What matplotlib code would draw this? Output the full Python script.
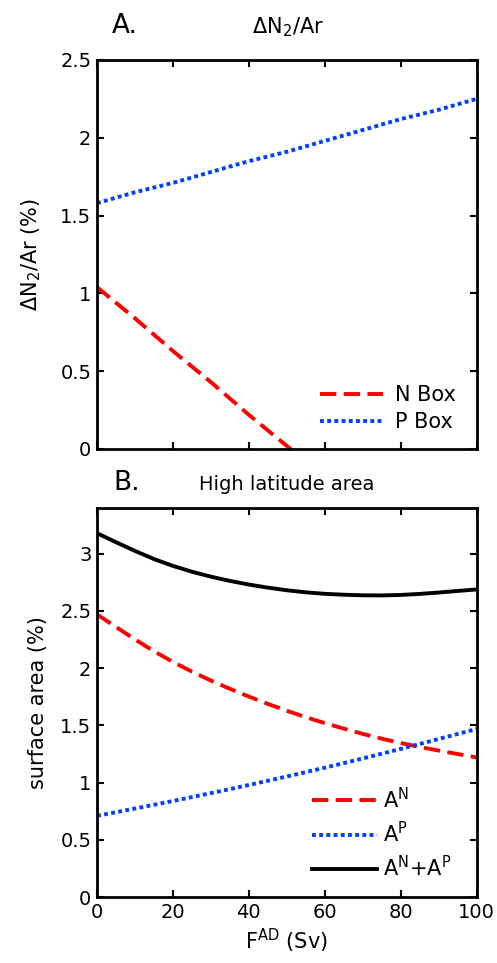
import matplotlib
matplotlib.use("Agg")
import matplotlib.pyplot as plt
from matplotlib.ticker import FuncFormatter

plt.rcParams['font.family'] = ['DejaVu Sans']
plt.rcParams['mathtext.default'] = 'regular'

# ---- data ----
F_top = [0, 10, 20, 30, 40, 50, 60, 70, 80, 90, 100]
dn2_N = [1.04, 0.84, 0.63, 0.43, 0.22, 0.02, -0.18, -0.39, -0.59, -0.80, -1.00]
dn2_P = [1.58, 1.65, 1.71, 1.78, 1.85, 1.91, 1.98, 2.05, 2.12, 2.18, 2.25]

F = [0, 5, 10, 15, 20, 25, 30, 35, 40, 45, 50, 55, 60, 65, 70, 75, 80, 85, 90, 95, 100]
A_N = [2.470, 2.360, 2.252, 2.148, 2.055, 1.970, 1.892, 1.820, 1.752, 1.688, 1.628,
       1.572, 1.520, 1.472, 1.426, 1.384, 1.346, 1.312, 1.280, 1.250, 1.220]
A_P = [0.710, 0.741, 0.773, 0.806, 0.839, 0.873, 0.908, 0.943, 0.979, 1.016, 1.053,
       1.091, 1.130, 1.170, 1.211, 1.252, 1.294, 1.337, 1.381, 1.425, 1.468]
A_sum = [a + b for a, b in zip(A_N, A_P)]

xticks = [0, 20, 40, 60, 80, 100]
yticks_top = [0, 0.5, 1, 1.5, 2, 2.5]
yticks_bot = [0, 0.5, 1, 1.5, 2, 2.5, 3]

RED = '#ff0000'
BLUE = '#0040ff'
W, H = 497, 963
fig = plt.figure(figsize=(W / 100, H / 100), dpi=100)

def fx(px):
    return px / W

def fy(py):
    return 1 - py / H

left, right = 97, 476.5
ax1 = fig.add_axes([fx(left), fy(449), fx(right) - fx(left), fy(60) - fy(449)])
ax2 = fig.add_axes([fx(left), fy(897), fx(right) - fx(left), fy(508) - fy(897)])

lw = 2.8
dash = (0, (4.2, 1.9))
dot = (0, (1.0, 0.85))

ax1.plot(F_top, dn2_N, color=RED, lw=lw, linestyle=dash, label='N Box')
ax1.plot(F_top, dn2_P, color=BLUE, lw=lw, linestyle=dot, label='P Box')
ax1.set_xlim(0, 100)
ax1.set_ylim(0, 2.5)
ax1.set_yticks(yticks_top)
ax1.set_xticks(xticks)
ax1.set_xticklabels([])
ax1.set_ylabel('ΔN$_2$/Ar (%)', fontsize=15)
ax1.yaxis.set_label_coords(-0.142, 0.5)

ax2.plot(F, A_N, color=RED, lw=lw, linestyle=dash, label='A$^N$')
ax2.plot(F, A_P, color=BLUE, lw=lw, linestyle=dot, label='A$^P$')
ax2.plot(F, A_sum, color='black', lw=lw, linestyle='-', label='A$^N$+A$^P$')
ax2.set_xlim(0, 100)
ax2.set_ylim(0, 3.4)
ax2.set_yticks(yticks_bot)
ax2.set_xticks(xticks)
ax2.set_ylabel('surface area (%)', fontsize=15)
ax2.yaxis.set_label_coords(-0.129, 0.5)
ax2.set_xlabel('F$^{AD}$ (Sv)', fontsize=15, labelpad=4)

fmt = FuncFormatter(lambda v, p: '%g' % v)
ax1.yaxis.set_major_formatter(fmt)
ax2.yaxis.set_major_formatter(fmt)
ax2.xaxis.set_major_formatter(fmt)
for ax in (ax1, ax2):
    for s in ax.spines.values():
        s.set_linewidth(2.0)
    ax.tick_params(direction='in', length=5, width=1.5, top=True, right=True,
                   labelsize=14, pad=4)

ax1.legend(loc='upper left', bbox_to_anchor=(0.588, 0.165), frameon=False,
           fontsize=15, handlelength=3.0, handletextpad=0.58, labelspacing=0.35,
           borderpad=0, borderaxespad=0)
ax2.legend(loc='upper left', bbox_to_anchor=(0.567, 0.284), frameon=False,
           fontsize=15, handlelength=3.1, handletextpad=0.29, labelspacing=0.44,
           borderpad=0, borderaxespad=0)

fig.text(fx(112), fy(33), 'A.', fontsize=19, va='baseline', ha='left')
fig.text(fx(113), fy(490), 'B.', fontsize=19, va='baseline', ha='left')
fig.text(fx(287.5), fy(33), 'ΔN$_2$/Ar', fontsize=15, va='baseline', ha='center')
fig.text(fx(287), fy(490), 'High latitude area', fontsize=14, va='baseline', ha='center')

fig.savefig('out.png', dpi=100)
